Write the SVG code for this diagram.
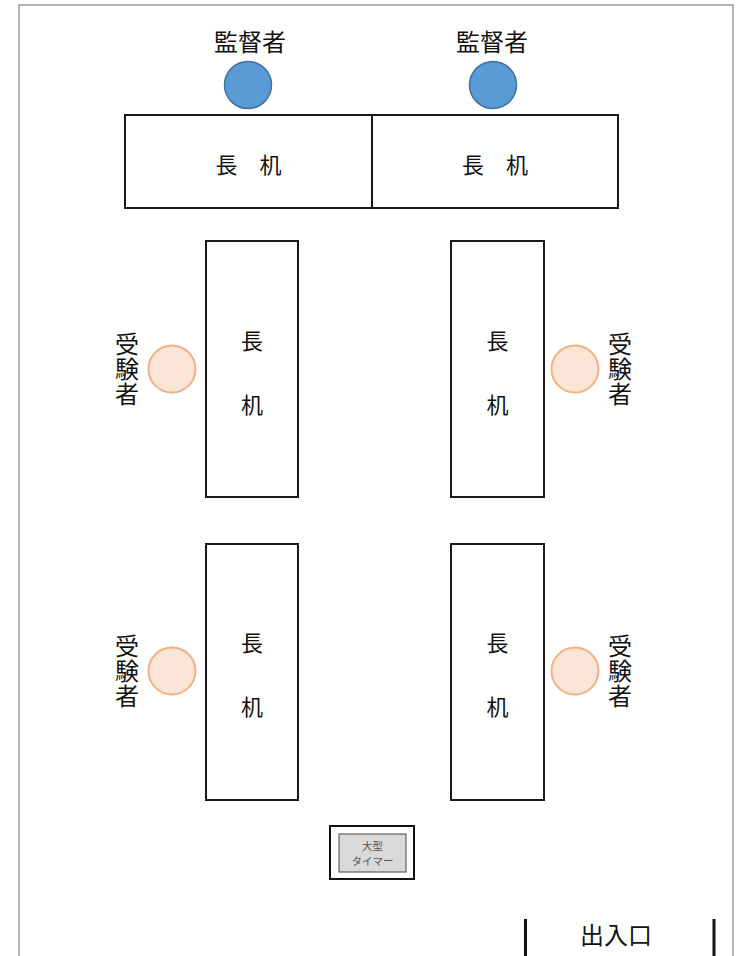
<svg xmlns="http://www.w3.org/2000/svg" width="744" height="956" viewBox="0 0 744 956">
<style>
text{font-family:"Noto Sans CJK JP","Noto Sans",sans-serif;fill:#111;text-anchor:middle}
.desk{fill:#fff;stroke:#1a1a1a;stroke-width:2}
.sup{fill:#5b9bd5;stroke:#41719c;stroke-width:1.5}
.exm{fill:#fbe5d6;stroke:#f4b183;stroke-width:2}
.lbl{font-size:24px}
.vt{font-size:24px;writing-mode:vertical-rl;letter-spacing:1px}
.dk{font-size:22px}
.tm{font-size:10.5px;fill:#555}
</style>
<rect x="0" y="0" width="744" height="956" fill="#fff"/>
<g id="room"><rect x="19" y="5" width="714" height="970" fill="none" stroke="#b3b3b3" stroke-width="2"/></g>
<g id="sup1"><text class="lbl" x="250" y="51">監督者</text><circle class="sup" cx="248" cy="85" r="23.5"/></g>
<g id="sup2"><text class="lbl" x="492" y="51">監督者</text><circle class="sup" cx="493" cy="85" r="23.5"/></g>
<g id="topdesk1"><rect class="desk" x="125" y="115" width="247" height="93"/><text class="dk" x="248.5" y="173">長　机</text></g>
<g id="topdesk2"><rect class="desk" x="372" y="115" width="246" height="93"/><text class="dk" x="495" y="173">長　机</text></g>
<g id="desk1"><rect class="desk" x="206" y="241" width="92" height="256"/><text class="dk" x="252" y="349">長</text><text class="dk" x="252" y="413">机</text></g>
<g id="desk2"><rect class="desk" x="451" y="241" width="93" height="256"/><text class="dk" x="497.5" y="349">長</text><text class="dk" x="497.5" y="413">机</text></g>
<g id="desk3"><rect class="desk" x="206" y="544" width="92" height="256"/><text class="dk" x="252" y="651">長</text><text class="dk" x="252" y="715">机</text></g>
<g id="desk4"><rect class="desk" x="451" y="544" width="93" height="256"/><text class="dk" x="497.5" y="651">長</text><text class="dk" x="497.5" y="715">机</text></g>
<g id="exam1"><circle class="exm" cx="172" cy="369" r="23.5"/><text class="vt" x="127" y="369.5">受験者</text></g>
<g id="exam2"><circle class="exm" cx="575" cy="369" r="23.5"/><text class="vt" x="620" y="369.5">受験者</text></g>
<g id="exam3"><circle class="exm" cx="172" cy="671" r="23.5"/><text class="vt" x="127" y="671.5">受験者</text></g>
<g id="exam4"><circle class="exm" cx="575" cy="671" r="23.5"/><text class="vt" x="620" y="671.5">受験者</text></g>
<g id="timer"><rect x="330" y="826" width="84" height="53" fill="#fff" stroke="#111" stroke-width="2"/><rect x="339" y="834" width="67" height="38" fill="#d9d9d9" stroke="#444" stroke-width="1"/><text class="tm" x="372.5" y="849.5"><tspan x="372.5">大型</tspan><tspan x="372.5" dy="15.5">タイマー</tspan></text></g>
<g id="exit"><line x1="525.5" y1="919" x2="525.5" y2="956" stroke="#111" stroke-width="3"/><line x1="714" y1="919" x2="714" y2="956" stroke="#111" stroke-width="3"/><text class="lbl" x="616" y="944">出入口</text></g>
<g id="connectors"></g>
</svg>
